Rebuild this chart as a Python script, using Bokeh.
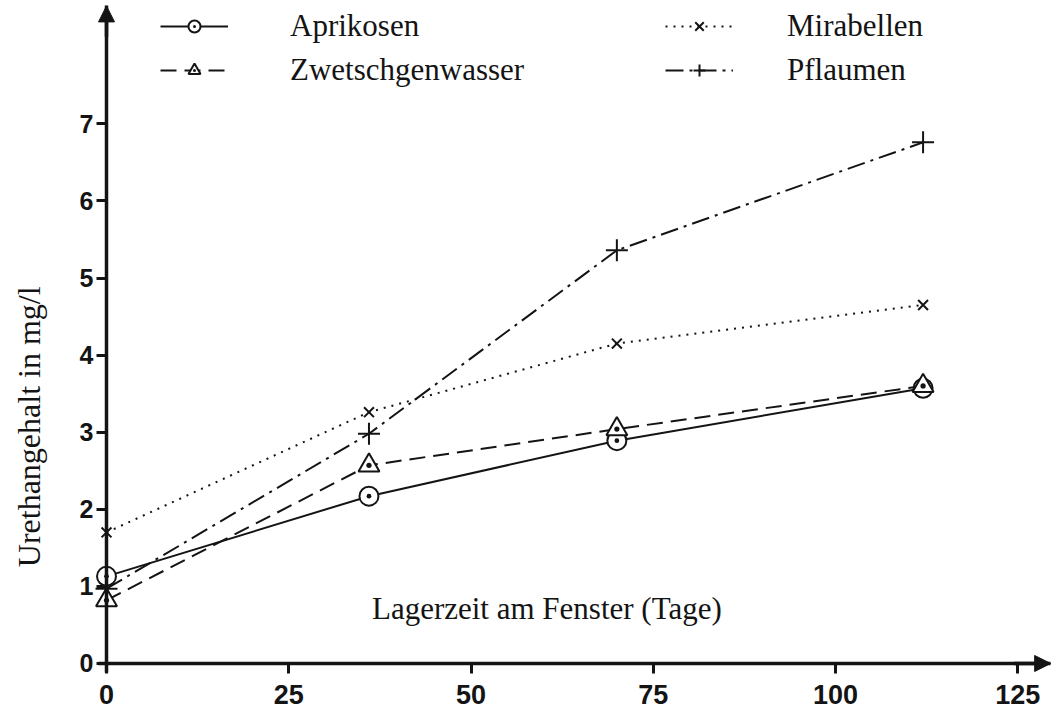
import math
from bokeh.plotting import figure
from bokeh.models import Range1d, FixedTicker, Label, Legend, LegendItem, Arrow, NormalHead
from bokeh.embed import file_html
from bokeh.resources import INLINE

# ---- data ----
days = [0, 36, 70, 112]
aprikosen = [1.13, 2.17, 2.89, 3.57]
zwetschgenwasser = [0.82, 2.57, 3.04, 3.60]
mirabellen = [1.70, 3.26, 4.15, 4.65]
pflaumen = [0.97, 2.98, 5.36, 6.76]
series_names = ["Aprikosen", "Zwetschgenwasser", "Mirabellen", "Pflaumen"]
x_ticks = [0, 25, 50, 75, 100, 125]
y_ticks = [0, 1, 2, 3, 4, 5, 6, 7]
x_title = "Lagerzeit am Fenster (Tage)"
y_title = "Urethangehalt in mg/l"

INK = "#141414"
SERIF = "Liberation Serif"
SANS = "Liberation Sans"

X0, X1 = -14.54, 130.3
Y0, Y1 = -0.623, 8.60
X_TIP, Y_TIP = 129.5, 8.53

p = figure(width=1056, height=711,
           x_range=Range1d(X0, X1), y_range=Range1d(Y0, Y1),
           output_backend="svg", toolbar_location=None,
           min_border_left=0, min_border_right=0, min_border_top=0, min_border_bottom=0)
p.outline_line_color = None
p.grid.visible = False
p.background_fill_color = "white"
p.border_fill_color = "white"

for ax in (p.xaxis[0], p.yaxis[0]):
    ax.fixed_location = 0
    ax.axis_line_width = 3.5
    ax.axis_line_color = INK
    ax.major_tick_line_width = 3
    ax.major_tick_line_color = INK
    ax.major_tick_in = 0
    ax.major_tick_out = 10
    ax.minor_tick_line_color = None
    ax.major_label_text_font = SANS
    ax.major_label_text_font_style = "bold"
    ax.major_label_text_color = INK
p.xaxis[0].major_label_text_font_size = "27px"
p.yaxis[0].major_label_text_font_size = "25px"
p.xaxis[0].ticker = FixedTicker(ticks=x_ticks)
p.yaxis[0].ticker = FixedTicker(ticks=y_ticks)
p.xaxis[0].bounds = (-1.1, X_TIP)
p.yaxis[0].bounds = (-0.117, Y_TIP)
p.xaxis[0].major_label_standoff = 12
p.yaxis[0].major_label_standoff = 3

# arrow heads at the ends of both axes
p.add_layout(Arrow(end=NormalHead(size=16, fill_color=INK, line_color=INK),
                   x_start=0, y_start=Y_TIP - 0.4, x_end=0, y_end=Y_TIP,
                   line_width=3.5, line_color=INK))
p.add_layout(Arrow(end=NormalHead(size=16, fill_color=INK, line_color=INK),
                   x_start=X_TIP - 5, y_start=0, x_end=X_TIP, y_end=0,
                   line_width=3.5, line_color=INK))

styles = [
    (aprikosen, "solid", "circle_dot", 19),
    (zwetschgenwasser, "16 8", "triangle_dot", 21),
    (mirabellen, "2 6", "x", 14),
    (pflaumen, "18 6 3 6", "cross", 22),
]
items = []
for name, (vals, dash, marker, size) in zip(series_names, styles):
    ln = p.line(days, vals, line_color=INK, line_width=2, line_dash=dash)
    sc = p.scatter(days, vals, marker=marker, size=size, line_color=INK,
                   line_width=2, fill_color="white")
    items.append(LegendItem(label=name, renderers=[ln, sc]))

for pair, loc, standoff in ((items[:2], (160, 623), 62), (items[2:], (665, 623), 54)):
    leg = Legend(items=pair, location=loc, orientation="vertical",
                 glyph_width=68, glyph_height=30, label_height=30, spacing=8,
                 label_standoff=standoff, padding=0, margin=0,
                 border_line_color=None, background_fill_alpha=0,
                 label_text_font=SERIF, label_text_font_size="31px",
                 label_text_color=INK)
    p.add_layout(leg)

p.add_layout(Label(x=60.4, y=0.71, text=x_title, text_align="center",
                   text_baseline="middle", text_font=SERIF,
                   text_font_size="31px", text_color=INK))
p.add_layout(Label(x=-10.6, y=3.07, text=y_title, angle=math.pi / 2,
                   text_align="center", text_baseline="middle",
                   text_font=SERIF, text_font_size="32px", text_color=INK))

open("out.html", "w").write(file_html(p, INLINE))
